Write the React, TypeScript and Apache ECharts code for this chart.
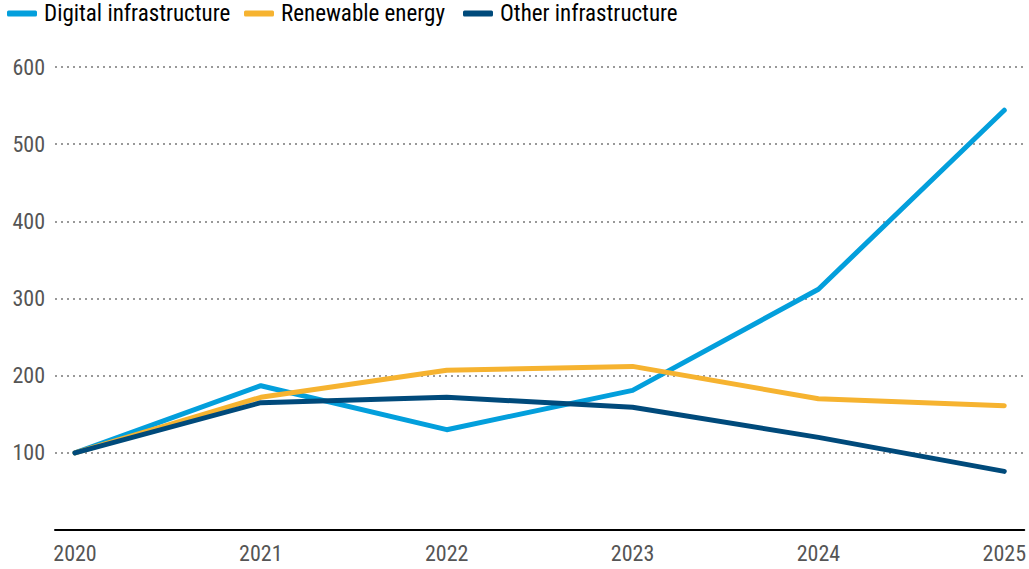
import React, { useEffect, useRef } from "react";
import * as echarts from "echarts";

const years = [2020, 2021, 2022, 2023, 2024, 2025];
const digital = [100, 187, 130, 181, 312, 544];
const renewable = [100, 172, 207, 212, 170, 161];
const other = [100, 165, 172, 159, 120, 76];
const yTicks = [100, 200, 300, 400, 500, 600];
const seriesNames = ["Digital infrastructure", "Renewable energy", "Other infrastructure"];
const legendLefts = [7, 244, 463];

const FONT = "'Roboto Condensed', 'Liberation Sans Narrow', Roboto, sans-serif";

export default function App() {
  const ref = useRef<HTMLDivElement>(null);
  useEffect(() => {
    if (!ref.current) return;
    const chart = echarts.init(ref.current, undefined, { renderer: "svg" });
    const mk = (name: string, vals: number[], color: string) => ({
      name,
      type: "line",
      data: years.map((y, i) => [y, vals[i]]),
      showSymbol: false,
      symbol: "none",
      lineStyle: { color, width: 5, cap: "round", join: "round" },
      itemStyle: { color },
    });
    chart.setOption({
      animation: false,
      textStyle: { fontFamily: FONT },
      legend: seriesNames.map((n, i) => ({
        left: legendLefts[i],
        top: 2,
        padding: 0,
        itemWidth: 30,
        itemHeight: 6,
        icon: "roundRect",
        textStyle: { fontSize: 23, color: "#000", fontFamily: FONT, padding: [0, 0, 0, 2] },
        data: [n],
      })),
      grid: { left: 55, right: 4, top: 67, bottom: 39, containLabel: false },
      xAxis: {
        type: "value",
        min: 2020 - 20 / 186,
        max: 2025 + 20 / 186,
        axisLine: { show: true, lineStyle: { color: "#000", width: 2 } },
        axisTick: { show: false },
        splitLine: { show: false },
        axisLabel: {
          customValues: years,
          formatter: (v: number) => String(Math.round(v)),
          fontSize: 22,
          color: "#555",
          margin: 12,
          fontFamily: FONT,
        },
      },
      yAxis: {
        type: "value",
        min: 0,
        max: 600,
        interval: 100,
        axisLine: { show: false },
        axisTick: { show: false },
        axisLabel: {
          fontSize: 22,
          color: "#555",
          margin: 10,
          fontFamily: FONT,
          customValues: yTicks,
        },
        splitLine: {
          show: true,
          lineStyle: { color: "#999", type: [2, 4], width: 2 },
        },
      },
      series: [
        mk(seriesNames[0], digital, "#039fdc"),
        mk(seriesNames[1], renewable, "#f6b330"),
        mk(seriesNames[2], other, "#004a7b"),
      ],
    });
    return () => chart.dispose();
  }, []);
  return (
    <div
      ref={ref}
      style={{ position: "absolute", left: 0, top: 0, width: 1029, height: 569 }}
    />
  );
}
